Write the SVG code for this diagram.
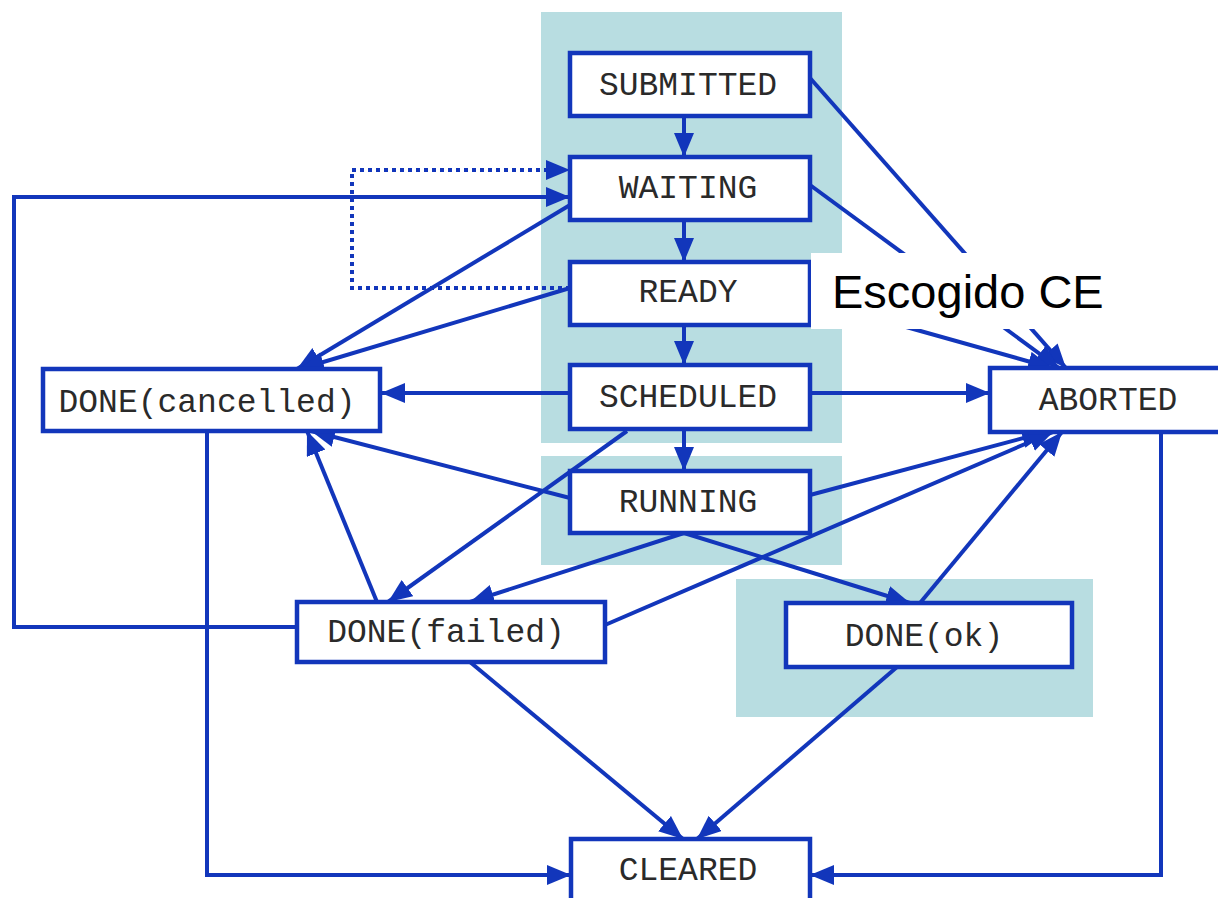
<svg xmlns="http://www.w3.org/2000/svg" width="1218" height="898" viewBox="0 0 1218 898">
<defs>
<style>
.bg{fill:#b8dde1}
.node rect{fill:#fff;stroke:#1236bb;stroke-width:4.5}
.node text{font-family:"Liberation Mono","DejaVu Sans Mono",monospace;font-size:33px;fill:#2a2a2a;text-anchor:middle}
.c{fill:none;stroke:#1236bb;stroke-width:4;marker-end:url(#ah)}
.d{fill:none;stroke:#1236bb;stroke-width:4;stroke-dasharray:4 4;marker-end:url(#ah)}
</style>
<marker id="ah" markerUnits="userSpaceOnUse" markerWidth="26" markerHeight="22" refX="24" refY="10" orient="auto">
<polygon points="0,0 24,10 0,20" fill="#1236bb"/>
</marker>
</defs>
<rect width="1218" height="898" fill="#fff"/>
<g id="backgrounds">
<rect class="bg" x="541" y="12" width="301" height="431"/>
<rect class="bg" x="541" y="456" width="301" height="109"/>
<rect class="bg" x="736" y="579" width="357" height="138"/>
</g>
<g id="connectors">
<path class="c" d="M684,116 L684,157"/>
<path class="c" d="M684,220 L684,262"/>
<path class="c" d="M684,325 L684,365"/>
<path class="c" d="M684,429 L684,471"/>
<path class="c" d="M810,78 L1066,368"/>
<path class="c" d="M810,185 L1059,368"/>
<path class="c" d="M810,300 L1052,368"/>
<path class="c" d="M810,393 L990,393"/>
<path class="c" d="M570,393 L381,393"/>
<path class="c" d="M570,205 L297,369"/>
<path class="c" d="M570,288 L300,369"/>
<path class="d" d="M570,288 L352,288 L352,170 L570,170"/>
<path class="c" d="M297,627 L14,627 L14,197 L570,197"/>
<path class="c" d="M207,431 L207,875 L571,875"/>
<path class="c" d="M1161,432 L1161,875 L810,875"/>
<path class="c" d="M470,662 L683,839"/>
<path class="c" d="M897,667 L697,839"/>
<path class="c" d="M684,533 L910,603"/>
<path class="c" d="M684,533 L470,602"/>
<path class="c" d="M810,495 L1046,432"/>
<path class="c" d="M570,498 L311,431"/>
<path class="c" d="M627,431 L388,602"/>
<path class="c" d="M377,602 L307,431"/>
<path class="c" d="M605,625 L1053,432"/>
<path class="c" d="M920,603 L1062,432"/>
</g>
<g id="SUBMITTED" class="node"><rect x="570" y="53" width="240" height="63"/><text x="688" y="95">SUBMITTED</text></g>
<g id="WAITING" class="node"><rect x="570" y="157" width="240" height="63"/><text x="688" y="198">WAITING</text></g>
<g id="READY" class="node"><rect x="570" y="262" width="240" height="63"/><text x="688" y="302">READY</text></g>
<g id="SCHEDULED" class="node"><rect x="570" y="365" width="240" height="64"/><text x="688" y="407">SCHEDULED</text></g>
<g id="RUNNING" class="node"><rect x="570" y="471" width="240" height="62"/><text x="688" y="512">RUNNING</text></g>
<g id="DONE_cancelled" class="node"><rect x="43" y="369" width="337" height="62"/><text x="207" y="412">DONE(cancelled)</text></g>
<g id="ABORTED" class="node"><rect x="990" y="368" width="235" height="64"/><text x="1108" y="410">ABORTED</text></g>
<g id="DONE_failed" class="node"><rect x="297" y="602" width="308" height="60"/><text x="446" y="642">DONE(failed)</text></g>
<g id="DONE_ok" class="node"><rect x="786" y="603" width="286" height="64"/><text x="924" y="646">DONE(ok)</text></g>
<g id="CLEARED" class="node"><rect x="571" y="839" width="239" height="70"/><text x="688" y="880">CLEARED</text></g>
<g id="label">
<rect x="811" y="253" width="310" height="76" fill="#fff"/>
<text x="832" y="308" font-family="Liberation Sans, Arial, sans-serif" font-size="47" fill="#000">Escogido CE</text>
</g>
</svg>
